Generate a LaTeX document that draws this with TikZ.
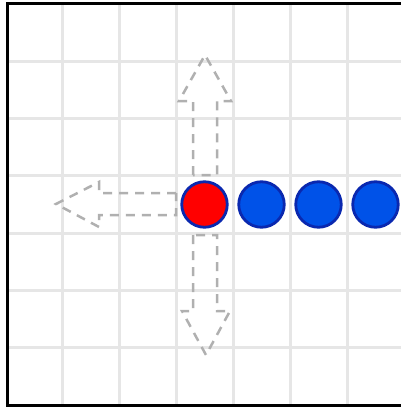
\documentclass[tikz,border=0pt]{standalone}
\begin{document}
\begin{tikzpicture}[x=1pt,y=-1pt,
  gridline/.style={draw={rgb,255:red,230;green,230;blue,230}, line width=3pt},
  frame/.style={draw=black, line width=3pt},
  ghost/.style={draw={rgb,255:red,176;green,176;blue,176}, line width=2.5pt, dash pattern=on 9pt off 7pt, line join=miter},
  token/.style={circle, minimum size=45.5pt, inner sep=0pt, line width=2.8pt, draw={rgb,255:red,10;green,40;blue,175}},
  redtoken/.style={token, fill={rgb,255:red,255;green,0;blue,0}},
  bluetoken/.style={token, fill={rgb,255:red,0;green,82;blue,232}}]
\useasboundingbox (0,0) rectangle (401,407);
\fill[white] (0,0) rectangle (401,407);
% grid
\foreach \k in {1,...,6} {
  \draw[gridline] ({5+57*\k},3.5) -- ({5+57*\k},405);
  \draw[gridline] (7,{4+57.3*\k}) -- (410,{4+57.3*\k});
}
% frame
\draw[frame] (7,3.5) rectangle (409,405);
% ghost arrows
\draw[ghost] (193,175) -- (193,101) -- (179,101) -- (205,55) -- (231,101) -- (217,101) -- (217,175) -- cycle;
\draw[ghost] (193,235) -- (193,311) -- (182,311) -- (206,355) -- (230,311) -- (217,311) -- (217,235) -- cycle;
\draw[ghost] (176,193) -- (105,193) -- (99,193) -- (99,182) -- (56,204) -- (99,227) -- (99,215) -- (176,215) -- cycle;
% tokens
\node[redtoken] (r) at (204.5,204.5) {};
\node[bluetoken] (b1) at (261.5,204.5) {};
\node[bluetoken] (b2) at (318.5,204.5) {};
\node[bluetoken] (b3) at (375.5,204.5) {};
\end{tikzpicture}
\end{document}
